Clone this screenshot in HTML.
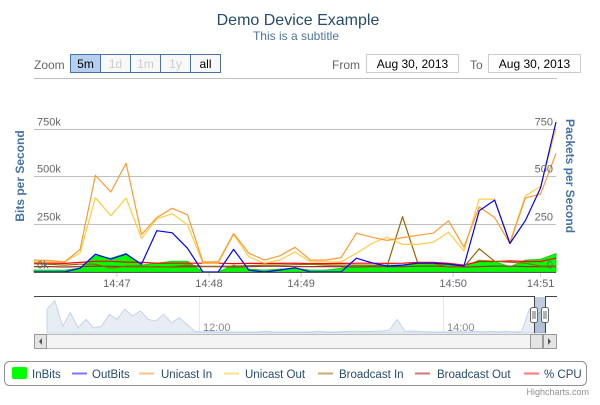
<!DOCTYPE html>
<html><head><meta charset="utf-8"><style>
body{margin:0;background:#fff;font-family:"Liberation Sans",sans-serif;}
svg text{font-family:"Liberation Sans",sans-serif;}
</style></head><body>
<svg id="c" width="600" height="400" viewBox="0 0 600 400" xmlns="http://www.w3.org/2000/svg">
<rect width="600" height="400" fill="#fff"/>
<text x="298" y="25" text-anchor="middle" font-size="16" fill="#274b6d">Demo Device Example</text>
<text x="296" y="40" text-anchor="middle" font-size="12" fill="#4d759e">This is a subtitle</text>
<g>
<text x="34" y="69" font-size="12" fill="#666">Zoom</text>
<g><rect x="70.5" y="54.5" width="30" height="18" fill="#b6cfee" stroke="#4572a7"/><text x="85.5" y="68" text-anchor="middle" font-size="12" fill="#000">5m</text></g>
<g><rect x="100.5" y="54.5" width="30" height="18" fill="#f8f8f8" stroke="#4572a7"/><text x="115.5" y="68" text-anchor="middle" font-size="12" fill="#ccc">1d</text></g>
<g><rect x="130.5" y="54.5" width="30" height="18" fill="#f8f8f8" stroke="#4572a7"/><text x="145.5" y="68" text-anchor="middle" font-size="12" fill="#ccc">1m</text></g>
<g><rect x="160.5" y="54.5" width="30" height="18" fill="#f8f8f8" stroke="#4572a7"/><text x="175.5" y="68" text-anchor="middle" font-size="12" fill="#ccc">1y</text></g>
<g><rect x="190.5" y="54.5" width="30" height="18" fill="#f8f8f8" stroke="#4572a7"/><text x="205.5" y="68" text-anchor="middle" font-size="12" fill="#000">all</text></g>
<text x="332" y="69" font-size="12" fill="#666">From</text>
<g><rect x="366.5" y="54.5" width="92" height="18" fill="#fff" stroke="#ccc"/><text x="412.5" y="68" text-anchor="middle" font-size="12" fill="#000">Aug 30, 2013</text></g>
<text x="470" y="69" font-size="12" fill="#666">To</text>
<g><rect x="488.5" y="54.5" width="92" height="18" fill="#fff" stroke="#ccc"/><text x="534.5" y="68" text-anchor="middle" font-size="12" fill="#000">Aug 30, 2013</text></g>
<line x1="34" y1="78.5" x2="557" y2="78.5" stroke="#c0c0c0"/>
</g>
<g id="grid"></g>
<g id="series"></g>
<g id="axes"></g>
<text transform="translate(24,176) rotate(-90)" text-anchor="middle" font-size="12" font-weight="bold" fill="#4572a7">Bits per Second</text>
<text transform="translate(566,176) rotate(90)" text-anchor="middle" font-size="12" font-weight="bold" fill="#4572a7">Packets per Second</text>
<g id="nav"></g>
<g id="legend"></g>
<text x="589" y="395" text-anchor="end" font-size="9" fill="#909090">Highcharts.com</text>
</svg>
<script>
const yTicks = [0, 250, 500, 750];
const leftTickLabels = ["0k", "250k", "500k", "750k"];
const rightTickLabels = ["0", "250", "500", "750"];
const xTickLabels = ["14:47", "14:48", "14:49", "14:50", "14:51"];
const xTickPos = [5.4, 11.4, 17.4, 27.3, 33];
const inBits = [10,10,10,20,85,72,96,36,46,56,56,0,0,36,15,10,15,20,10,10,20,36,36,36,36,46,41,36,26,62,56,26,62,67,96];
const outBits = [0,0,0,20,93,67,94,41,216,205,124,0,0,118,10,0,10,22,0,0,0,72,48,31,36,46,46,41,31,320,376,149,268,440,784];
const unicastIn = [62,60,53,118,505,418,568,196,285,333,299,53,53,201,98,62,84,129,62,62,75,203,182,165,180,192,203,268,130,340,285,149,386,407,620];
const unicastOut = [53,53,53,100,388,294,386,175,278,304,247,46,46,196,79,46,62,105,53,53,53,98,149,182,144,144,155,208,110,381,381,156,397,448,749];
const broadcastIn = [43,40,36,41,41,20,31,31,26,28,36,30,30,31,33,36,36,38,40,36,36,36,36,31,289,46,46,26,26,122,56,51,46,31,31];
const broadcastOut = [28,28,26,28,31,30,28,28,28,26,28,28,28,26,28,30,30,28,28,28,28,26,28,28,28,31,31,28,26,28,31,31,28,28,28];
const cpu = [46,46,45,50,56,56,52,50,46,46,46,46,46,44,45,45,45,46,44,44,45,46,46,45,46,50,50,45,36,55,55,58,55,55,72];
const navValues = [0.7,0.95,0.2,0.6,0.15,0.4,0.15,0.2,0.55,0.4,0.7,0.5,0.65,0.4,0.35,0.55,0.3,0.45,0.25,0.05,0.03,0.05,0.03,0.03,0.03,0.03,0.03,0.03,0.05,0.03,0.03,0.03,0.03,0.03,0.03,0.05,0.03,0.03,0.04,0.05,0.05,0.04,0.05,0.06,0.08,0.4,0.05,0.06,0.04,0.03,0.03,0.03,0.03,0.04,0.03,0.05,0.03,0.05,0.03,0.05,0.03,0.04,0.7,0.55,0.7];
const NS='http://www.w3.org/2000/svg';
const X0=34, X1=556, Y0=272, YT=128.5;
function xs(i){return X0+(X1-X0)*i/(inBits.length-1);}
function ys(v){return Y0-(Y0-YT)*v/750;}
function mk(tag,attrs,parent){const e=document.createElementNS(NS,tag);for(const k in attrs)e.setAttribute(k,attrs[k]);parent.appendChild(e);return e;}
const grid=document.getElementById('grid'), axes=document.getElementById('axes'), ser=document.getElementById('series');
yTicks.forEach((t,i)=>{
  const y=Math.round(ys(t))+0.5;
  const l=mk('line',{x1:X0,x2:X1,y1:y,y2:y,stroke:'#c0c0c0'},grid);
  
  
  const a=mk('text',{x:37,y:y-4,'font-size':11,fill:'#666'},axes);a.textContent=leftTickLabels[i];
  
  
  const b=mk('text',{x:553,y:y-4,'font-size':11,fill:'#666','text-anchor':'end'},axes);b.textContent=rightTickLabels[i];
  
  
});
const ax=mk('line',{x1:X0,x2:X1,y1:272.5,y2:272.5,stroke:'#555'},axes);


xTickLabels.forEach((t,i)=>{
  const x=xs(xTickPos[i]);
  const tk=mk('line',{x1:x,x2:x,y1:273,y2:277,stroke:'#c0d0e0'},axes);
  
  
  const tx=mk('text',{x:x,y:287,'font-size':11,fill:'#666','text-anchor':'middle'},axes);tx.textContent=t;
  
  
});
function pts(arr){return arr.map((v,i)=>xs(i).toFixed(1)+','+ys(v).toFixed(1)).join(' ');}
const area=mk('polygon',{points:xs(0)+','+Y0+' '+pts(inBits)+' '+xs(inBits.length-1)+','+Y0,fill:'#00ff00',stroke:'#22cc22','stroke-width':1},ser);


const lines=[[broadcastOut,'#993333','broadcast-out-line'],[cpu,'#ff0000','cpu-line'],[broadcastIn,'#996600','broadcast-in-line'],[unicastOut,'#ffcc44','unicast-out-line'],[unicastIn,'#ff9933','unicast-in-line'],[outBits,'#0000ff','outbits-line']];
lines.forEach(([arr,c,n])=>{
  const p=mk('polyline',{points:pts(arr),fill:'none',stroke:c,'stroke-width':1.2,'stroke-linejoin':'round'},ser);
  
  
});
const nav=document.getElementById('nav');
const NX0=47, NX1=545, NB=333, NT=299;
function nx(i){return NX0+(NX1-NX0)*i/(navValues.length-1);}
function ny(v){return NB-(NB-NT)*v;}
[199,443].forEach(x=>{const g=mk('line',{x1:x+0.5,x2:x+0.5,y1:297,y2:333,stroke:'#e6e6e6'},nav);});
const np=navValues.map((v,i)=>nx(i).toFixed(1)+','+ny(v).toFixed(1)).join(' ');
const na=mk('polygon',{points:NX0+','+NB+' '+np+' '+NX1+','+NB,fill:'#e8edf3',stroke:'#c4d4e8','stroke-width':1},nav);


const sel=mk('rect',{x:534,y:297,width:11,height:36,fill:'rgba(69,114,167,0.35)'},nav);


const outline=mk('path',{d:'M34,296.5 H534.5 V333 M545.5,333 V296.5 H557',fill:'none',stroke:'#444'},nav);


[['12:00',203],['14:00',447]].forEach(([t,x])=>{const e=mk('text',{x:x,y:331,'font-size':11,fill:'#888'},nav);e.textContent=t;});
[530,541].forEach(x=>{const h=mk('g',{},nav);mk('rect',{x:x+0.5,y:307.5,width:7,height:15,rx:2,fill:'#fff',stroke:'#666'},h);mk('path',{d:`M${x+3},311 v8 M${x+5},311 v8`,stroke:'#666'},h);});
const sb=mk('g',{},nav);


mk('rect',{x:34.5,y:334.5,width:522,height:14,fill:'#f4f4f4',stroke:'#bbb'},sb);
mk('rect',{x:34.5,y:334.5,width:12,height:14,fill:'#e4e4e4',stroke:'#999'},sb);
mk('path',{d:'M42,338 l-3,3.5 l3,3.5z',fill:'#555'},sb);
mk('rect',{x:530.5,y:334.5,width:12,height:14,fill:'#e4e4e4',stroke:'#999'},sb);
mk('rect',{x:543.5,y:334.5,width:13,height:14,fill:'#e4e4e4',stroke:'#999'},sb);
mk('path',{d:'M548,338 l3,3.5 l-3,3.5z',fill:'#555'},sb);
const lg=document.getElementById('legend');
const lb=mk('rect',{x:4.5,y:361.5,width:582,height:24,rx:5,fill:'#fff',stroke:'#909090'},lg);


const items=[['InBits','#00ff00',12,32,true],['OutBits','#7777ff',72,92],['Unicast In','#ffc088',139,161],['Unicast Out','#ffe088',224,245],['Broadcast In','#c8a870',318,339],['Broadcast Out','#cc7777',415,437],['% CPU','#ff7777',524,544]];
items.forEach(([t,c,sx,tx,sq])=>{
  const g=mk('g',{},lg);
  
  
  if(sq) mk('rect',{x:sx,y:367,width:15,height:12,rx:2,fill:c},g);
  else mk('line',{x1:sx,x2:sx+15,y1:373.5,y2:373.5,stroke:c,'stroke-width':2},g);
  const e=mk('text',{x:tx,y:378,'font-size':11.5,fill:'#274b6d'},g);e.textContent=t;
});
</script>
</body></html>
